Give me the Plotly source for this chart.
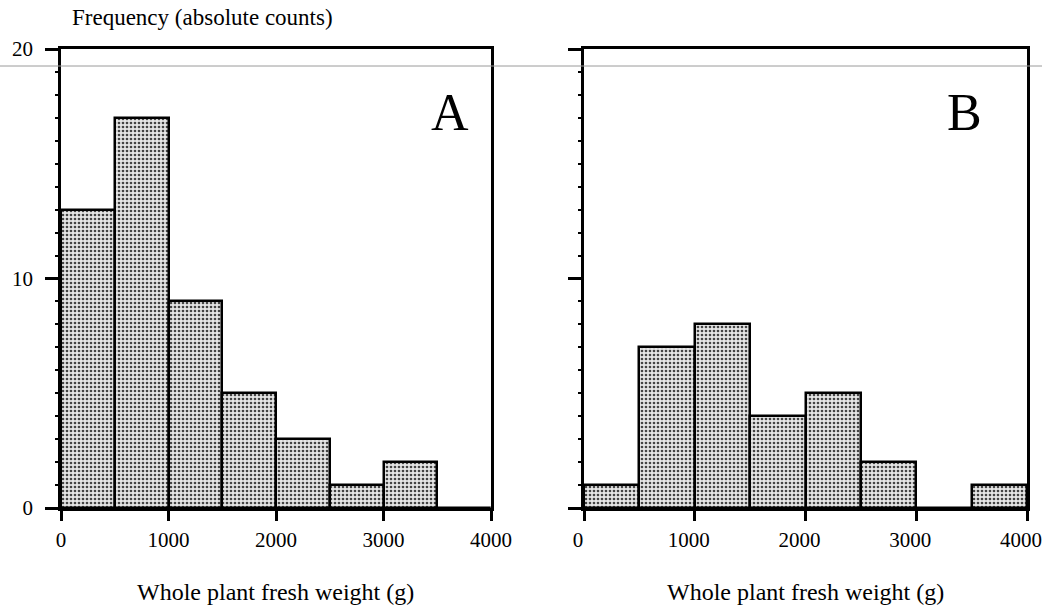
import plotly.graph_objects as go
from plotly.subplots import make_subplots

# Data
bin_left = [0, 500, 1000, 1500, 2000, 2500, 3000, 3500]
bin_width = 500
counts_A = [13, 17, 9, 5, 3, 1, 2, 0]
counts_B = [1, 7, 8, 4, 5, 2, 0, 1]
x_ticks = [0, 1000, 2000, 3000, 4000]
y_ticks = [0, 10, 20]
x_title = "Whole plant fresh weight (g)"
y_title = "Frequency (absolute counts)"
panel_labels = ["A", "B"]

W, H = 1042, 609
FONT = "Liberation Serif, Times New Roman, serif"

fig = make_subplots(rows=1, cols=2)

pattern = dict(shape=".", size=4, solidity=0.35, fgcolor="#444444", bgcolor="#e6e6e6", fillmode="replace")

for i, counts in enumerate([counts_A, counts_B]):
    fig.add_trace(go.Bar(
        x=bin_left, y=counts, width=[bin_width] * len(bin_left), offset=0,
        marker=dict(color="#cfcfcf", line=dict(color="black", width=2.5), pattern=pattern),
        showlegend=False, hoverinfo="x+y"), row=1, col=i + 1)

y0 = 1 - 508 / H
y1 = 1 - 49 / H
domA = [61 / W, 491 / W]
domB = [584 / W, 1027 / W]

common_x = dict(range=[0, 4000], tickvals=x_ticks, ticks="outside", ticklen=10, tickwidth=2.5,
                tickcolor="black", showline=True, linecolor="black", linewidth=2.5, mirror=True,
                showgrid=False, zeroline=False, ticklabelstandoff=1, ticklabeloverflow="allow",
                tickfont=dict(family=FONT, size=21, color="black"), automargin=False)
common_y = dict(range=[0, 20], tickvals=y_ticks, ticks="outside", ticklen=13, tickwidth=2.5,
                tickcolor="black", showline=True, linecolor="black", linewidth=2.5, mirror=True,
                showgrid=False, zeroline=False,
                minor=dict(dtick=1, ticks="outside", ticklen=3, tickwidth=2, tickcolor="black", showgrid=False),
                tickfont=dict(family=FONT, size=21, color="black"), automargin=False)

fig.update_xaxes(domain=domA, **common_x, row=1, col=1)
fig.update_xaxes(domain=domB, ticklabelshift=-6, **common_x, row=1, col=2)
fig.update_yaxes(domain=[y0, y1], showticklabels=True, ticklabelstandoff=8, **common_y, row=1, col=1)
fig.update_yaxes(domain=[y0, y1], showticklabels=False, **common_y, row=1, col=2)

annotations = [
    dict(text=y_title, x=70 / W, y=1 - 18 / H, xref="paper", yref="paper", xanchor="left", yanchor="middle",
         showarrow=False, font=dict(family=FONT, size=23, color="black")),
    dict(text=x_title, x=(domA[0] + domA[1]) / 2, y=1 - 592 / H, xref="paper", yref="paper",
         xanchor="center", yanchor="middle", showarrow=False, font=dict(family=FONT, size=24, color="black")),
    dict(text=x_title, x=(domB[0] + domB[1]) / 2, y=1 - 592 / H, xref="paper", yref="paper",
         xanchor="center", yanchor="middle", showarrow=False, font=dict(family=FONT, size=24, color="black")),
    dict(text=panel_labels[0], x=450 / W, y=1 - 112 / H, xref="paper", yref="paper",
         xanchor="center", yanchor="middle", showarrow=False, font=dict(family=FONT, size=52, color="black")),
    dict(text=panel_labels[1], x=964 / W, y=1 - 112 / H, xref="paper", yref="paper",
         xanchor="center", yanchor="middle", showarrow=False, font=dict(family=FONT, size=52, color="black")),
]

fig.update_layout(
    width=W, height=H, margin=dict(l=0, r=0, t=0, b=0),
    paper_bgcolor="white", plot_bgcolor="white", bargap=0,
    annotations=annotations,
    shapes=[dict(type="line", xref="paper", yref="paper", x0=0, x1=1, y0=1 - 66 / H, y1=1 - 66 / H,
                 line=dict(color="#9a9a9a", width=1), layer="above")],
)

fig.write_html("out.html", config={"displayModeBar": False},
               post_script="document.body.style.margin='0';document.body.style.overflow='hidden';")
